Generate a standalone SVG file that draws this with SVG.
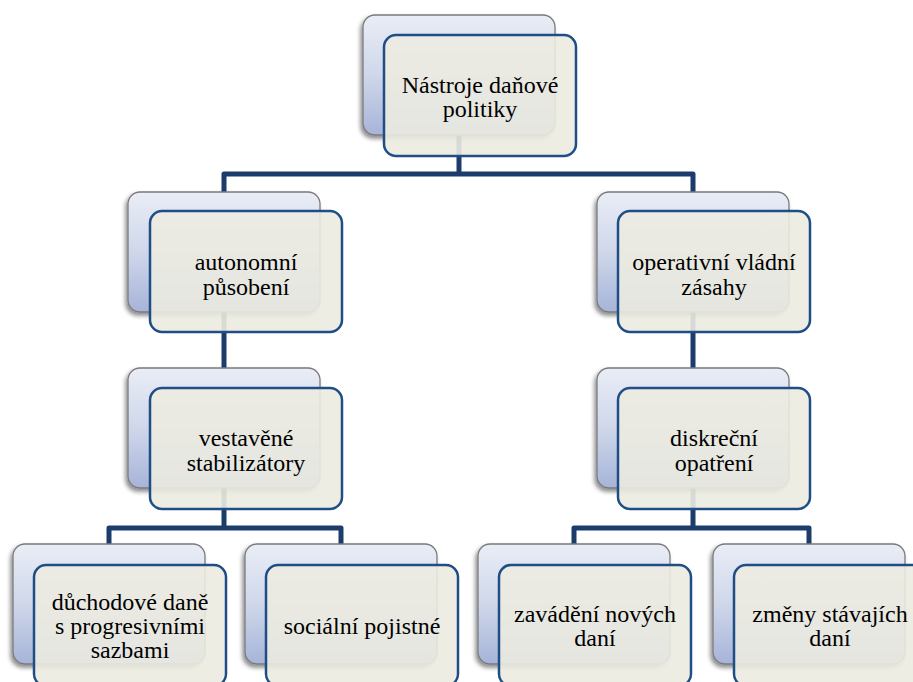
<svg xmlns="http://www.w3.org/2000/svg" width="913" height="682" viewBox="0 0 913 682">
<defs>
<linearGradient id="bg" x1="0" y1="0" x2="0" y2="1">
<stop offset="0" stop-color="#e9edf6"/>
<stop offset="0.5" stop-color="#cfd7ea"/>
<stop offset="1" stop-color="#a6b4d8"/>
</linearGradient>
<filter id="sh" x="-20%" y="-20%" width="140%" height="140%">
<feDropShadow dx="-2" dy="3" stdDeviation="2" flood-color="#000" flood-opacity="0.45"/>
</filter>
</defs>
<style>
.back{fill:url(#bg);stroke:#7a7a7a;stroke-width:1.3;filter:url(#sh)}
.front{fill:#ecebe1;fill-opacity:0.9;stroke:#1f4e86;stroke-width:2.5}
.conn{fill:none;stroke:#1c3d6b;stroke-width:5;stroke-linejoin:round}
.t{font-family:"Liberation Serif","Times New Roman",serif;font-size:24px;fill:#000;text-anchor:middle}
</style>
<rect width="913" height="682" fill="#fff"/>
<g id="connectors">
<path class="conn" d="M459,135 V174 M224,192 V174 H693 V192"/>
<path class="conn" d="M224,312 V368"/>
<path class="conn" d="M693,312 V368"/>
<path class="conn" d="M224,488 V528 M109,544 V528 H341 V544"/>
<path class="conn" d="M693,488 V528 M574,544 V528 H809 V544"/>
</g>
<g id="n-top">
<rect class="back" x="363" y="15" width="192" height="120" rx="12"/>
<rect class="front" x="384" y="35" width="192" height="121" rx="12"/>
<text class="t" x="480" y="93">Nástroje daňové</text>
<text class="t" x="480" y="117">politiky</text>
</g>
<g id="n-autonomni">
<rect class="back" x="128" y="192" width="192" height="120" rx="12"/>
<rect class="front" x="150" y="211" width="192" height="121" rx="12"/>
<text class="t" x="246" y="270">autonomní</text>
<text class="t" x="246" y="295">působení</text>
</g>
<g id="n-operativni">
<rect class="back" x="597" y="192" width="192" height="120" rx="12"/>
<rect class="front" x="618" y="211" width="192" height="121" rx="12"/>
<text class="t" x="714" y="270">operativní vládní</text>
<text class="t" x="714" y="295">zásahy</text>
</g>
<g id="n-vestavene">
<rect class="back" x="128" y="368" width="192" height="120" rx="12"/>
<rect class="front" x="150" y="388" width="192" height="121" rx="12"/>
<text class="t" x="246" y="446">vestavěné</text>
<text class="t" x="246" y="471">stabilizátory</text>
</g>
<g id="n-diskrecni">
<rect class="back" x="597" y="368" width="192" height="120" rx="12"/>
<rect class="front" x="618" y="388" width="192" height="121" rx="12"/>
<text class="t" x="714" y="446">diskreční</text>
<text class="t" x="714" y="471">opatření</text>
</g>
<g id="n-duchodove">
<rect class="back" x="13" y="544" width="192" height="120" rx="12"/>
<rect class="front" x="34" y="565" width="192" height="121" rx="12"/>
<text class="t" x="130" y="610">důchodové daně</text>
<text class="t" x="130" y="634">s progresivními</text>
<text class="t" x="130" y="658">sazbami</text>
</g>
<g id="n-socialni">
<rect class="back" x="245" y="544" width="192" height="120" rx="12"/>
<rect class="front" x="266" y="565" width="192" height="121" rx="12"/>
<text class="t" x="362" y="634">sociální pojistné</text>
</g>
<g id="n-zavadeni">
<rect class="back" x="478" y="544" width="192" height="120" rx="12"/>
<rect class="front" x="499" y="565" width="192" height="121" rx="12"/>
<text class="t" x="595" y="622">zavádění nových</text>
<text class="t" x="595" y="646">daní</text>
</g>
<g id="n-zmeny">
<rect class="back" x="713" y="544" width="192" height="120" rx="12"/>
<rect class="front" x="734" y="565" width="192" height="121" rx="12"/>
<text class="t" x="830" y="622">změny stávajích</text>
<text class="t" x="830" y="646">daní</text>
</g>
</svg>
